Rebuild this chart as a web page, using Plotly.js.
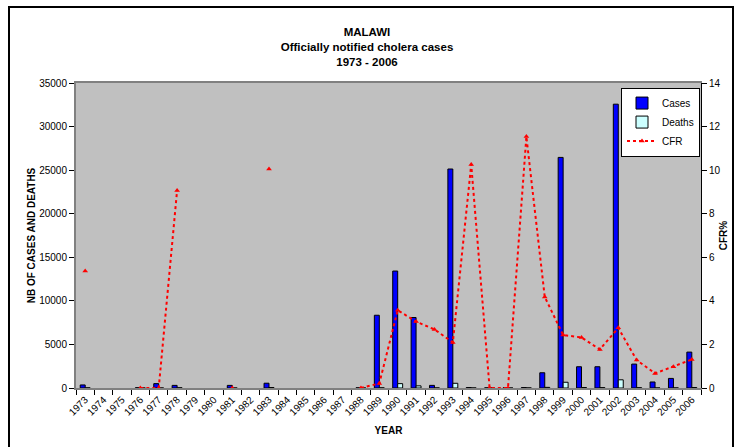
<!DOCTYPE html>
<html>
<head>
<meta charset="utf-8">
<script src="https://cdn.plot.ly/plotly-3.0.1.min.js"></script>
<style>
  html, body { margin: 0; padding: 0; background: #fff; }
  #wrap { position: relative; width: 734px; height: 447px; overflow: hidden; }
  #chart { position: absolute; left: 0; top: 0; width: 734px; height: 447px; }
  #frame { position: absolute; left: 8px; top: 6px; width: 722px; height: 460px; border: 2px solid #000; pointer-events: none; }
</style>
</head>
<body>
<div id="wrap">
  <div id="chart"></div>
  <div id="frame"></div>
</div>
<script>
const years = ["1973","1974","1975","1976","1977","1978","1979","1980","1981","1982","1983","1984","1985","1986","1987","1988","1989","1990","1991","1992","1993","1994","1995","1996","1997","1998","1999","2000","2001","2002","2003","2004","2005","2006"];

const cases = [350, null, null, 30, 500, 300, null, null, 300, null, 550, null, null, null, null, 20, 8350, 13420, 8090, 300, 25130, 50, 20, 20, 50, 1750, 26460, 2440, 2440, 32570, 2745, 690, 1100, 4120];

const deaths = [19, null, null, 0, 0, 27, null, null, 0, null, 55, null, null, null, null, 0, 17, 500, 247, 8, 540, 5, 0, 0, 6, 73, 660, 57, 43, 940, 35, 5, 11, 54];

const cfr = [5.37, null, null, 0, 0, 9.07, null, null, 0, null, 10.05, null, null, null, null, 0, 0.21, 3.57, 3.05, 2.69, 2.09, 10.26, 0, 0, 11.54, 4.18, 2.43, 2.32, 1.77, 2.76, 1.28, 0.67, 0.98, 1.31];

const FONT = "Liberation Sans, Arial, sans-serif";

const traces = [
  {
    type: "bar", name: "Cases", x: years, y: cases,
    marker: { color: "#0000FF", line: { color: "#000000", width: 1 } }
  },
  {
    type: "bar", name: "Deaths", x: years, y: deaths,
    marker: { color: "#CCFFFF", line: { color: "#000000", width: 1 } }
  },
  {
    type: "scatter", mode: "lines+markers", name: "CFR", x: years, y: cfr, yaxis: "y2",
    connectgaps: false, cliponaxis: false,
    line: { color: "#FF0000", width: 2, dash: "3px,3px" },
    marker: { symbol: "triangle-up", size: 5, color: "#FF0000" }
  }
];

const layout = {
  width: 734, height: 447,
  margin: { l: 76, r: 33, t: 83, b: 59 },
  paper_bgcolor: "#FFFFFF",
  plot_bgcolor: "#C0C0C0",
  font: { family: FONT, size: 10, color: "#000" },
  title: {
    text: "<b>MALAWI</b><br><b>Officially notified cholera cases</b><br><b>1973 - 2006</b>",
    font: { family: FONT, size: 11.5, color: "#000" },
    x: 0.5, xanchor: "center", y: 0.919, yanchor: "middle"
  },
  barmode: "group",
  bargap: 0.46,
  bargroupgap: 0,
  showlegend: true,
  legend: {
    x: 0.872, y: 0.985, xanchor: "left", yanchor: "top",
    bgcolor: "#FFFFFF", bordercolor: "#000000", borderwidth: 1,
    font: { family: FONT, size: 10 },
    tracegroupgap: 0, itemwidth: 30
  },
  xaxis: {
    type: "category",
    range: [-0.5, 33.5],
    tickangle: -45,
    tickson: "boundaries",
    ticks: "outside", ticklen: 5, tickcolor: "#000",
    showline: true, linecolor: "#808080", linewidth: 2, mirror: true,
    showgrid: false, zeroline: false,
    tickfont: { family: FONT, size: 10 },
    title: { text: "<b>YEAR</b>", font: { family: FONT, size: 10 }, standoff: 10 }
  },
  yaxis: {
    range: [0, 35000], dtick: 5000, tickformat: "d",
    ticks: "outside", ticklen: 5, tickcolor: "#000",
    showline: true, linecolor: "#808080", linewidth: 2,
    showgrid: false, zeroline: false,
    tickfont: { family: FONT, size: 10 },
    title: { text: "<b>NB OF CASES AND DEATHS</b>", font: { family: FONT, size: 10 }, standoff: 2 }
  },
  yaxis2: {
    overlaying: "y", side: "right",
    range: [0, 14], dtick: 2,
    ticks: "outside", ticklen: 5, tickcolor: "#000",
    showline: true, linecolor: "#000000", linewidth: 1,
    showgrid: false, zeroline: false,
    tickfont: { family: FONT, size: 10 },
    title: { text: "<b>CFR%</b>", font: { family: FONT, size: 10 }, standoff: 0 }
  }
};

Plotly.newPlot("chart", traces, layout, { displayModeBar: false, staticPlot: true });
</script>
</body>
</html>
